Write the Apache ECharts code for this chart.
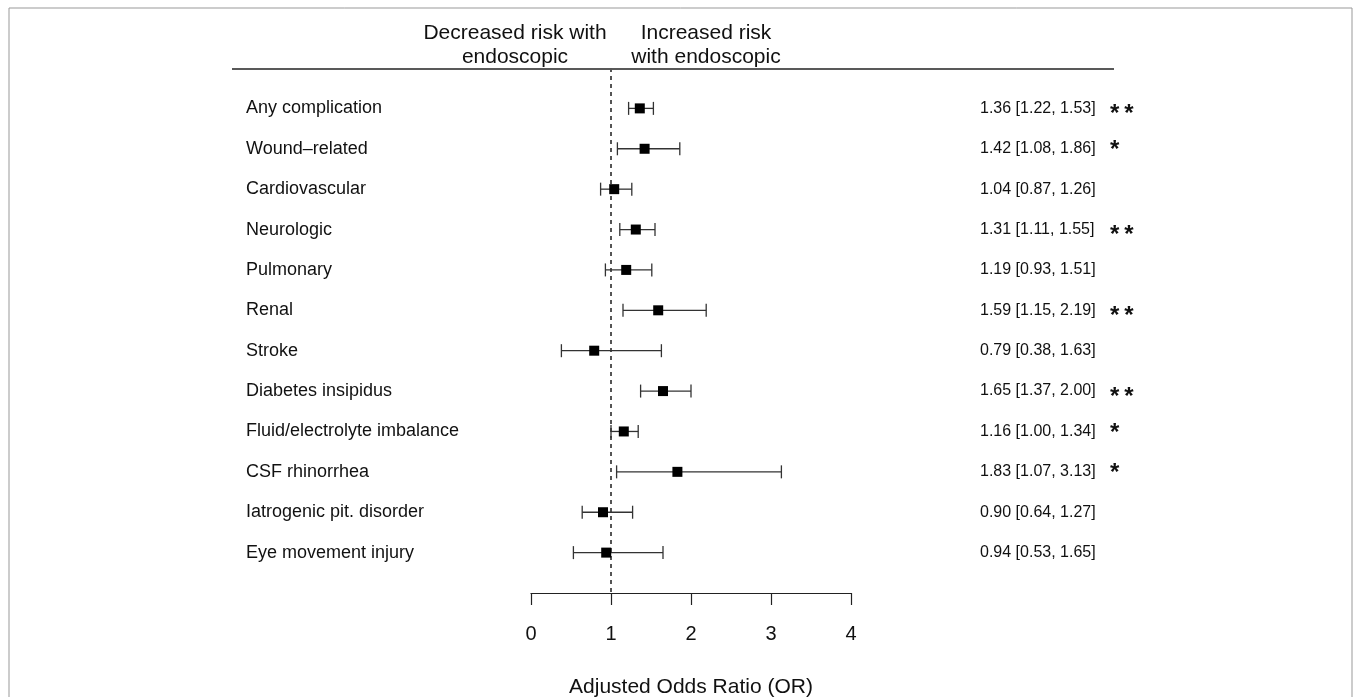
<!DOCTYPE html>
<html>
<head>
<meta charset="utf-8">
<script src="https://cdn.jsdelivr.net/npm/echarts@6/dist/echarts.min.js"></script>
<style>
html,body{margin:0;padding:0;background:#fff;}
#c{width:1357px;height:697px;}
</style>
</head>
<body>
<div id="c"></div>
<script>
const categories = ["Any complication","Wound\u2013related","Cardiovascular","Neurologic","Pulmonary","Renal","Stroke","Diabetes insipidus","Fluid/electrolyte imbalance","CSF rhinorrhea","Iatrogenic pit. disorder","Eye movement injury"];
const oddsRatio = [1.36,1.42,1.04,1.31,1.19,1.59,0.79,1.65,1.16,1.83,0.90,0.94];
const ciLower   = [1.22,1.08,0.87,1.11,0.93,1.15,0.38,1.37,1.00,1.07,0.64,0.53];
const ciUpper   = [1.53,1.86,1.26,1.55,1.51,2.19,1.63,2.00,1.34,3.13,1.27,1.65];
const stars     = ["**","*","","**","","**","","**","*","*","",""];
const xTicks    = [0,1,2,3,4];
const referenceOR = 1;

const FONT = '"Liberation Sans", Arial, Helvetica, sans-serif';
const chart = echarts.init(document.getElementById('c'), null, {renderer:'canvas'});

const rowOf = i => i + 1;
const fmt = v => v.toFixed(2);

const option = {
  animation: false,
  backgroundColor: '#fff',
  textStyle: {fontFamily: FONT},
  grid: {left: 531, width: 320, top: 68, height: 525, outerBoundsMode: 'none', containLabel: false},
  xAxis: {
    type: 'value', min: xTicks[0], max: xTicks[xTicks.length-1], interval: 1,
    axisLine: {show: true, onZero: false, lineStyle: {color: '#222', width: 1.2}},
    axisTick: {show: true, length: 12, lineStyle: {color: '#222', width: 1.2}},
    axisLabel: {margin: 31, fontSize: 20, color: '#111', fontFamily: FONT},
    splitLine: {show: false},
    name: 'Adjusted Odds Ratio (OR)', nameLocation: 'middle', nameGap: 84,
    nameTextStyle: {fontSize: 21, color: '#111', fontFamily: FONT}
  },
  yAxis: [{
    type: 'value', inverse: true, min: 0, max: categories.length + 1, interval: 1,
    axisLine: {show: false}, axisTick: {show: false}, splitLine: {show: false},
    axisLabel: {
      margin: 285, align: 'left', fontSize: 18, color: '#111', fontFamily: FONT,
      formatter: v => (v >= 1 && v <= categories.length) ? categories[v-1] : ''
    }
  },{
    type: 'value', inverse: true, position: 'right', min: 0, max: categories.length + 1, interval: 1,
    axisLine: {show: false}, axisTick: {show: false}, splitLine: {show: false},
    axisLabel: {
      margin: 129, align: 'left', color: '#111', fontFamily: FONT,
      formatter: v => {
        if (!(v >= 1 && v <= categories.length)) return '';
        const i = v - 1;
        const t = fmt(oddsRatio[i]) + ' [' + fmt(ciLower[i]) + ', ' + fmt(ciUpper[i]) + ']';
        let s = '';
        if (stars[i] === '**') s = '{d|*\u2009*}';
        else if (stars[i] === '*') s = '{s|*}';
        return '{v|' + t + '}' + s;
      },
      rich: {
        v: {fontSize: 16, width: 130, color: '#111', fontFamily: FONT},
        s: {fontSize: 24, fontWeight: 'bold', color: '#111', fontFamily: FONT, padding: [4,0,0,0]},
        d: {fontSize: 24, fontWeight: 'bold', color: '#111', fontFamily: FONT, padding: [12,0,0,0]}
      }
    }
  }],
  series: [
    {
      type: 'line', data: [[referenceOR, 0], [referenceOR, categories.length + 1]],
      symbol: 'none', silent: true, z: 1,
      lineStyle: {color: '#555', width: 2, type: [4, 4]}
    },
    {
      type: 'custom', z: 2,
      data: categories.map((c, i) => [ciLower[i], ciUpper[i], rowOf(i)]),
      renderItem: (params, api) => {
        const p1 = api.coord([api.value(0), api.value(2)]);
        const p2 = api.coord([api.value(1), api.value(2)]);
        const h = 6.5;
        const st = {stroke: '#333', lineWidth: 1.3};
        return {type: 'group', children: [
          {type: 'line', shape: {x1: p1[0], y1: p1[1], x2: p2[0], y2: p2[1]}, style: st},
          {type: 'line', shape: {x1: p1[0], y1: p1[1]-h, x2: p1[0], y2: p1[1]+h}, style: st},
          {type: 'line', shape: {x1: p2[0], y1: p2[1]-h, x2: p2[0], y2: p2[1]+h}, style: st}
        ]};
      }
    },
    {
      type: 'scatter', z: 3, symbol: 'rect', symbolSize: 10,
      itemStyle: {color: '#000', opacity: 1},
      data: categories.map((c, i) => [oddsRatio[i], rowOf(i)])
    }
  ],
  graphic: [
    {type: 'rect', shape: {x: 9, y: 8, width: 1343, height: 720}, style: {fill: 'none', stroke: '#999', lineWidth: 1}, silent: true},
    {type: 'line', shape: {x1: 232, y1: 69, x2: 1114, y2: 69}, style: {stroke: '#222', lineWidth: 1.5}},
    {type: 'text', x: 515, y: 45, style: {text: 'Decreased risk with\nendoscopic', font: '21px ' + FONT, fill: '#111', align: 'center', verticalAlign: 'middle', lineHeight: 24}},
    {type: 'text', x: 706, y: 45, style: {text: 'Increased risk\nwith endoscopic', font: '21px ' + FONT, fill: '#111', align: 'center', verticalAlign: 'middle', lineHeight: 24}}
  ]
};
chart.setOption(option);
</script>
</body>
</html>
